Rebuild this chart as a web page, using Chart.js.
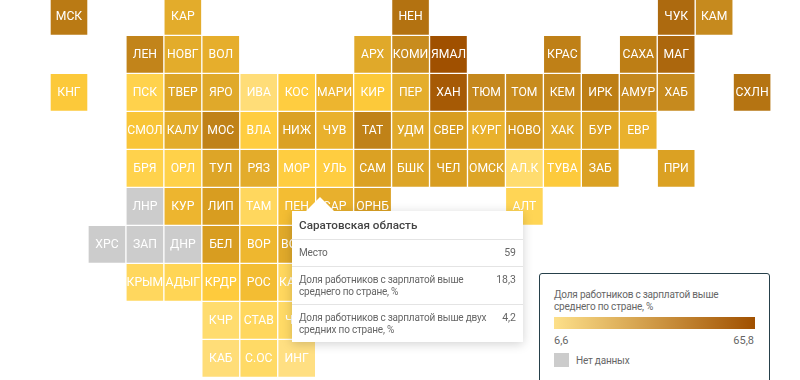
<!DOCTYPE html>
<html><head><meta charset="utf-8">
<script src="https://cdn.jsdelivr.net/npm/chart.js@4"></script>
<style>
html,body{margin:0;padding:0;background:#fff;overflow:hidden}
#wrap{position:relative;width:800px;height:380px;font-family:Roboto,sans-serif}
canvas{position:absolute;left:0;top:0}
#tip{position:absolute;left:292px;top:211px;width:231px;height:131px;background:#fff;box-shadow:0 2px 10px rgba(0,0,0,.18);color:#666;font-size:10px;letter-spacing:-.2px;line-height:12px;box-sizing:border-box}
#tip .arrow{position:absolute;left:14px;top:-14px;width:0;height:0;border-left:14px solid transparent;border-right:14px solid transparent;border-bottom:14px solid #fff}
#tip .t{position:absolute;left:7px;top:7px;font-size:11.7px;letter-spacing:0;font-weight:500;color:#444;line-height:14px}
#tip .h{position:absolute;left:0;right:0;height:1px;background:#e4e4e4}
#tip .l{position:absolute;left:7px;line-height:12px;white-space:nowrap}
#tip .v{position:absolute;right:7px;line-height:12px;font-size:10.5px;letter-spacing:0}
#leg{position:absolute;left:539px;top:273px;width:231px;height:120px;border:1px solid #26404a;border-radius:3px;box-sizing:border-box;background:#fff;color:#666;font-size:10px;letter-spacing:-.2px}
#leg .n{position:absolute;left:14px;top:15px;line-height:12px}
#leg .b{position:absolute;left:14px;top:43px;width:201px;height:12px;background:linear-gradient(90deg,#fde08a,#a05000)}
#leg .a{position:absolute;left:14px;top:60px;font-size:11px;letter-spacing:0}
#leg .z{position:absolute;right:15px;top:60px;font-size:11px;letter-spacing:0}
#leg .s{position:absolute;left:14px;top:79px;width:15px;height:14px;background:#ccc}
#leg .m{position:absolute;left:36px;top:81px;font-size:10px}
</style></head><body>
<div id="wrap">
<canvas id="c" width="800" height="380"></canvas>
<div id="tip"><div class="arrow"></div>
<div class="t" id="tt"></div>
<div class="h" style="top:28px"></div>
<div class="l" style="top:36px" id="l0"></div><div class="v" style="top:36px" id="v0"></div>
<div class="h" style="top:55px"></div>
<div class="l" style="top:63px" id="l1"></div><div class="v" style="top:63px" id="v1"></div>
<div class="h" style="top:93px"></div>
<div class="l" style="top:101px" id="l2"></div><div class="v" style="top:101px" id="v2"></div>
</div>
<div id="leg"><div class="n">Доля работников с зарплатой выше<br>среднего по стране, %</div><div class="b"></div><div class="a" id="la"></div><div class="z" id="lz"></div><div class="s"></div><div class="m">Нет данных</div></div>
</div>
<script>
const regions=["МСК","КАР","НЕН","ЧУК","КАМ",
"ЛЕН","НОВГ","ВОЛ","АРХ","КОМИ","ЯМАЛ","КРАС","САХА","МАГ",
"КНГ","ПСК","ТВЕР","ЯРО","ИВА","КОС","МАРИ","КИР","ПЕР","ХАН","ТЮМ","ТОМ","КЕМ","ИРК","АМУР","ХАБ","СХЛН",
"СМОЛ","КАЛУ","МОС","ВЛА","НИЖ","ЧУВ","ТАТ","УДМ","СВЕР","КУРГ","НОВО","ХАК","БУР","ЕВР",
"БРЯ","ОРЛ","ТУЛ","РЯЗ","МОР","УЛЬ","САМ","БШК","ЧЕЛ","ОМСК","АЛ.К","ТУВА","ЗАБ","ПРИ",
"ЛНР","КУР","ЛИП","ТАМ","ПЕН","САР","ОРНБ","АЛТ",
"ХРС","ЗАП","ДНР","БЕЛ","ВОР","ВОЛГ",
"КРЫМ","АДЫГ","КРДР","РОС","КАЛМ",
"КЧР","СТАВ","ЧЕЧ",
"КАБ","С.ОС","ИНГ"];
const cols=[0,3,9,16,17,
2,3,4,8,9,10,13,15,16,
0,2,3,4,5,6,7,8,9,10,11,12,13,14,15,16,18,
2,3,4,5,6,7,8,9,10,11,12,13,14,15,
2,3,4,5,6,7,8,9,10,11,12,13,14,16,
2,3,4,5,6,7,8,12,
1,2,3,4,5,6,
2,3,4,5,6,
4,5,6,
4,5,6];
const rows=[0,0,0,0,0,
1,1,1,1,1,1,1,1,1,
2,2,2,2,2,2,2,2,2,2,2,2,2,2,2,2,2,
3,3,3,3,3,3,3,3,3,3,3,3,3,3,
4,4,4,4,4,4,4,4,4,4,4,4,4,4,
5,5,5,5,5,5,5,5,
6,6,6,6,6,6,
7,7,7,7,7,
8,8,8,
9,9,9];
const share=[40,20,44,48,32,
35,20,19,21,31,65.8,37,38,50,
14,10,22,21,7.5,12,17,14,19.5,58,33,31,33,38,33,32,43,
14.5,20,36,12,23,18,36,21,24,18,26,20.5,23,18,
10,10.5,22,20,12,12,23,22,24,22,8,13.5,23,23,
null,17,24,9,15.5,18.3,23,9.5,
null,null,null,24,16.5,21,
9,9.5,13,15.5,9,
8,9,8.5,
7.5,8.5,7];
const scaleValues=[6.6,8,9,10,12,14,16,18.3,21,24,32,38,48,58,65.8];
const scaleColors=["#ffe08a","#ffdc6e","#ffd75e","#ffd24c","#ffcd40","#fcc93a","#f0b930","#e8b02d","#e0a92a","#d89d20","#c68a1e","#bd7e15","#ad6a0f","#a65a05","#a05000"];
const noDataColor="#cccccc";
const legendMin="6,6", legendMax="65,8";
const tipTitle="Саратовская область";
const tipLabels=["Место","Доля работников с зарплатой выше<br>среднего по стране, %","Доля работников с зарплатой выше двух<br>средних по стране, %"];
const tipValues=["59","18,3","4,2"];

document.getElementById('la').textContent=legendMin;
document.getElementById('lz').textContent=legendMax;
document.getElementById('tt').textContent=tipTitle;
tipLabels.forEach((t,i)=>{document.getElementById('l'+i).innerHTML=t;document.getElementById('v'+i).textContent=tipValues[i];});

function hex(c){return [1,3,5].map(i=>parseInt(c.substr(i,2),16));}
function colorFor(v){
  if(v===null)return noDataColor;
  for(let i=1;i<scaleValues.length;i++){
    if(v<=scaleValues[i]){
      const t=(v-scaleValues[i-1])/(scaleValues[i]-scaleValues[i-1]);
      const a=hex(scaleColors[i-1]),b=hex(scaleColors[i]);
      return 'rgb('+a.map((x,k)=>Math.round(x+(b[k]-x)*t)).join(',')+')';
    }
  }
  return scaleColors[scaleColors.length-1];
}
const tileLabels={id:'tileLabels',afterDatasetsDraw(ch){
  const c=ch.ctx,m=ch.getDatasetMeta(0);
  c.save();c.fillStyle='#fff';c.font='12.2px Roboto';c.textAlign='center';c.textBaseline='middle';
  m.data.forEach((p,i)=>c.fillText(regions[i],p.x,p.y+0.5));
  c.restore();
}};
new Chart(document.getElementById('c'),{
  type:'scatter',
  data:{datasets:[{
    data:regions.map((r,i)=>({x:cols[i],y:rows[i]})),
    pointStyle:'rect',
    pointRadius:25.88,
    pointHoverRadius:25.88,
    borderWidth:0,
    clip:false,
    backgroundColor:share.map(colorFor)
  }]},
  options:{
    responsive:false,animation:false,
    layout:{padding:0,autoPadding:false},
    events:[],
    plugins:{legend:{display:false},tooltip:{enabled:false}},
    scales:{
      x:{type:'linear',display:false,min:-1.818,max:19.262},
      y:{type:'linear',display:false,reverse:true,min:-0.432,max:9.568}
    }
  },
  plugins:[tileLabels]
});
</script>
</body></html>
